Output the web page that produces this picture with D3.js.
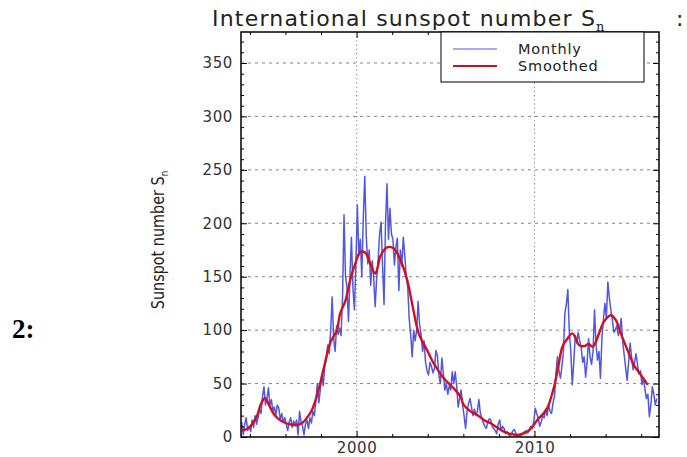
<!DOCTYPE html>
<html>
<head>
<meta charset="utf-8">
<script src="https://cdn.jsdelivr.net/npm/d3@7"></script>
<style>
  body { margin: 0; background: #fff; }
  svg { display: block; }
</style>
</head>
<body>
<svg id="chart" width="687" height="457"></svg>
<script>
// monthly values start in July 1993, one per month
const START_YEAR = 1993;
const START_MONTH = 7;

const monthly = [
  14, 2, 12, 18, 6, 10,
  5, 16, 9, 20, 12, 18, 26, 22, 38, 47, 30, 36,
  46, 30, 35, 24, 28, 20, 30, 27, 16, 22, 14, 18,
  12, 6, 14, 18, 9, 15, 11, 16, 2, 24, 14, 10,
  2, 12, 16, 8, 18, 13, 24, 20, 34, 50, 32, 44,
  58, 48, 66, 72, 86, 78, 100, 131, 92, 80, 104, 96,
  102, 95, 130, 208, 150, 140, 108, 150, 187, 140, 119, 160,
  217, 170, 185, 150, 205, 244, 188, 162, 175, 142, 165, 150,
  122, 148, 165, 190, 201, 160, 124, 200, 237, 185, 214, 190,
  185, 161, 178, 186, 137, 175, 160, 187, 170, 150, 140, 110,
  95, 75, 100, 90, 100, 127, 105, 96, 80, 90, 70, 62,
  58, 70, 66, 60, 64, 81, 76, 58, 50, 74, 60, 44,
  50, 40, 48, 44, 61, 50, 61, 48, 28, 36, 44, 30,
  20, 8, 24, 31, 36, 28, 20, 26, 20, 24, 35, 22,
  18, 13, 10, 8, 14, 17, 16, 10, 8, 6, 3, 12,
  16, 6, 10, 8, 3, 5, 2, 1, 3, 6, 7, 3,
  1, 2, 1, 2, 4, 5, 6, 4, 7, 10, 8, 14,
  27, 22, 18, 10, 14, 20, 18, 26, 20, 30, 24, 22,
  32, 38, 60, 75, 62, 55, 66, 80, 116, 124, 138, 98,
  80, 49, 70, 95, 88, 98, 90, 84, 70, 75, 56, 70,
  92, 75, 68, 80, 119, 87, 72, 80, 55, 93, 110, 125,
  112, 145, 130, 119, 110, 98, 100, 104, 95, 100, 111, 90,
  77, 65, 53, 70, 88, 75, 63, 70, 78, 68, 59, 62,
  49, 55, 45, 36, 40, 19, 30, 47, 40, 30, 36
];

const smoothedYears = [
  1993.54, 1993.75, 1994.0, 1994.38, 1994.6, 1994.85, 1995.1, 1995.32, 1995.6, 1995.88,
  1996.2, 1996.54, 1996.8, 1997.0, 1997.25, 1997.48, 1997.86, 1998.23, 1998.51, 1998.89,
  1999.08, 1999.36, 1999.64, 1999.92, 2000.2, 2000.49, 2000.77, 2001.05, 2001.2, 2001.33,
  2001.71, 2002.08, 2002.46, 2002.84, 2003.12, 2003.49, 2003.96, 2004.33, 2004.9, 2005.46,
  2005.84, 2006.02, 2006.4, 2006.78, 2007.15, 2007.53, 2007.9, 2008.28, 2008.65, 2009.03,
  2009.3, 2009.6, 2009.9, 2010.16, 2010.45, 2010.72, 2011.1, 2011.35, 2011.57, 2011.85,
  2012.13, 2012.3, 2012.5, 2012.8, 2013.05, 2013.26, 2013.45, 2013.63, 2013.91, 2014.29,
  2014.57, 2014.85, 2015.23, 2015.6, 2015.98, 2016.2, 2016.36
];
const smoothedValues = [
  6.5, 7, 9.6, 19, 30, 36.5, 29, 22, 17, 14,
  12, 11, 12, 14, 19, 25, 44, 70, 88, 100,
  116, 127, 147, 162, 173, 172.5, 162, 153, 160, 169,
  177.5, 176.6, 165.6, 147, 125, 97, 81.4, 69, 55, 45.6,
  37.7, 30, 24, 20.6, 16, 12.8, 9, 5, 3, 1.9,
  3, 5, 10, 16, 21, 27, 47, 67, 84.5, 92,
  97, 93, 86, 85, 87, 84.5, 89, 97, 108, 114,
  109.5, 97, 81.4, 67, 58, 53, 48.7
];

const yTicks = [0, 50, 100, 150, 200, 250, 300, 350];
const xTicks = [2000, 2010];
const legendLabels = ["Monthly", "Smoothed"];
const seriesColors = ["#5257e0", "#d0101e"];

const plotLeft = 241, plotRight = 659, plotTop = 32, plotBottom = 437;

const svg = d3.select("#chart");

const x = d3.scaleLinear().domain([1993.5, 2017.0]).range([plotLeft, plotRight]);
const y = d3.scaleLinear().domain([0, 379]).range([plotBottom, plotTop]);

const monthlyData = monthly.map((v, i) => ({
  t: START_YEAR + (START_MONTH - 1 + i + 0.5) / 12,
  v: v
}));
const smoothedData = smoothedYears.map((t, i) => ({ t: t, v: smoothedValues[i] }));

// grid
const grid = svg.append("g");
grid.selectAll("line.h")
  .data(yTicks.filter(d => d > 0))
  .enter().append("line")
  .attr("x1", plotLeft).attr("x2", plotRight)
  .attr("y1", d => y(d)).attr("y2", d => y(d))
  .style("stroke", "#666")
  .style("stroke-width", 0.8)
  .style("stroke-dasharray", "3,4");
grid.selectAll("line.v")
  .data(xTicks)
  .enter().append("line")
  .attr("x1", d => x(d)).attr("x2", d => x(d))
  .attr("y1", plotTop).attr("y2", plotBottom)
  .style("stroke", "#666")
  .style("stroke-width", 0.8)
  .style("stroke-dasharray", "1.2,3");

// data
const line = d3.line().x(d => x(d.t)).y(d => y(d.v));

svg.append("path")
  .datum(monthlyData)
  .attr("d", line)
  .style("fill", "none")
  .style("stroke", seriesColors[0])
  .style("stroke-width", 1.5)
  .style("stroke-linejoin", "round");

svg.append("path")
  .datum(smoothedData)
  .attr("d", line.curve(d3.curveCatmullRom))
  .style("fill", "none")
  .style("stroke", seriesColors[1])
  .style("stroke-width", 2.4)
  .style("stroke-linejoin", "round");

// axes, ticks inside on all four sides
const minorX = d3.range(1994, 2017, 2).filter(d => !xTicks.includes(d));
const minorY = d3.range(0, 380, 10).filter(d => d % 50 !== 0);

function styleAxis(g) {
  g.select(".domain").remove();
  g.selectAll(".tick line").style("stroke", "#000").style("stroke-width", 1);
  g.selectAll("text")
    .style("font-family", "DejaVu Sans, sans-serif")
    .style("font-size", "15px")
    .style("fill", "#333")
    .style("letter-spacing", "0.6px");
}

svg.append("g").attr("transform", `translate(0,${plotBottom})`)
  .call(d3.axisBottom(x).tickValues(xTicks).tickSize(-6).tickPadding(5).tickFormat(d3.format("d")))
  .call(styleAxis);
svg.append("g").attr("transform", `translate(0,${plotBottom})`)
  .call(d3.axisBottom(x).tickValues(minorX).tickSize(-3).tickFormat(""))
  .call(styleAxis);
svg.append("g").attr("transform", `translate(0,${plotTop})`)
  .call(d3.axisTop(x).tickValues(xTicks).tickSize(-6).tickFormat(""))
  .call(styleAxis);
svg.append("g").attr("transform", `translate(0,${plotTop})`)
  .call(d3.axisTop(x).tickValues(minorX).tickSize(-3).tickFormat(""))
  .call(styleAxis);

svg.append("g").attr("transform", `translate(${plotLeft},0)`)
  .call(d3.axisLeft(y).tickValues(yTicks).tickSize(-6).tickPadding(8))
  .call(styleAxis);
svg.append("g").attr("transform", `translate(${plotLeft},0)`)
  .call(d3.axisLeft(y).tickValues(minorY).tickSize(-3).tickFormat(""))
  .call(styleAxis);
svg.append("g").attr("transform", `translate(${plotRight},0)`)
  .call(d3.axisRight(y).tickValues(yTicks).tickSize(-6).tickFormat(""))
  .call(styleAxis);
svg.append("g").attr("transform", `translate(${plotRight},0)`)
  .call(d3.axisRight(y).tickValues(minorY).tickSize(-3).tickFormat(""))
  .call(styleAxis);

svg.append("rect")
  .attr("x", plotLeft).attr("y", plotTop)
  .attr("width", plotRight - plotLeft).attr("height", plotBottom - plotTop)
  .style("fill", "none")
  .style("stroke", "#000")
  .style("stroke-width", 1.5);

// legend
const legend = svg.append("g");
legend.append("rect")
  .attr("x", 441).attr("y", plotTop)
  .attr("width", 203).attr("height", 50)
  .style("fill", "#fff")
  .style("stroke", "#000")
  .style("stroke-width", 1);
legend.selectAll("line.key")
  .data(legendLabels)
  .enter().append("line")
  .attr("x1", 453).attr("x2", 497)
  .attr("y1", (d, i) => 49 + i * 17).attr("y2", (d, i) => 49 + i * 17)
  .style("stroke", (d, i) => seriesColors[i])
  .style("stroke-width", (d, i) => i ? 2 : 1);
legend.selectAll("text")
  .data(legendLabels)
  .enter().append("text")
  .attr("x", 518)
  .attr("y", (d, i) => 54 + i * 17)
  .text(d => d)
  .style("font-family", "DejaVu Sans, sans-serif")
  .style("font-size", "14.5px")
  .style("letter-spacing", "0.8px")
  .style("fill", "#222");

// title
const title = svg.append("text")
  .attr("x", 212).attr("y", 26)
  .style("font-family", "DejaVu Sans, sans-serif")
  .style("font-size", "22px")
  .style("letter-spacing", "1.2px")
  .style("fill", "#222");
title.append("tspan").text("International sunspot number S");
title.append("tspan").attr("dy", 5).style("font-size", "13px")
  .style("font-family", "DejaVu Serif, serif").text("n");
title.append("tspan").attr("dy", -5).attr("x", 676).text(":");

// y label, narrow glyphs
const ylab = svg.append("text")
  .attr("transform", "translate(164,240) rotate(-90) scale(0.8,1)")
  .attr("text-anchor", "middle")
  .style("font-family", "DejaVu Sans, sans-serif")
  .style("font-size", "18px")
  .style("fill", "#222");
ylab.append("tspan").text("Sunspot number S");
ylab.append("tspan").attr("dy", 4).style("font-size", "11px").text("n");

// panel number
svg.append("text")
  .attr("x", 12).attr("y", 338)
  .text("2:")
  .style("font-family", "Liberation Serif, Times New Roman, serif")
  .style("font-weight", "bold")
  .style("font-size", "27px")
  .style("fill", "#000");
</script>
</body>
</html>
